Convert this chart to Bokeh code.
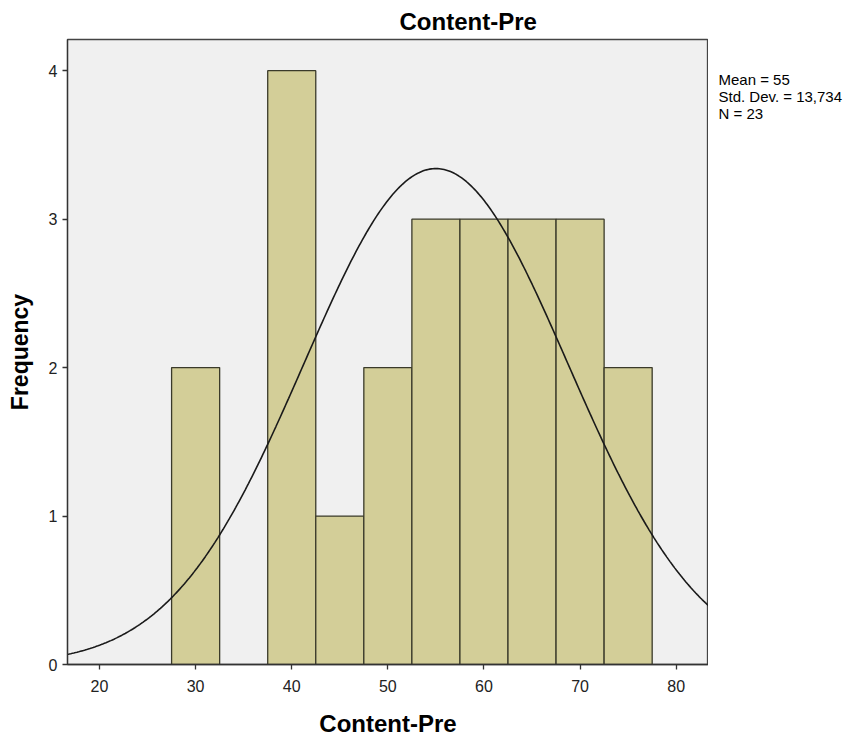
import math
from bokeh.plotting import figure
from bokeh.layouts import row
from bokeh.models import FixedTicker, Range1d
from bokeh.core.properties import value
from bokeh.embed import file_html
from bokeh.resources import INLINE

# Data
bin_centers = [30, 40, 45, 50, 55, 60, 65, 70, 75]
counts = [2, 4, 1, 2, 3, 3, 3, 3, 2]
bin_width = 5
stat_mean = 55
stat_sd = 13.734
stat_n = 23
x_ticks = [20, 30, 40, 50, 60, 70, 80]
y_ticks = [0, 1, 2, 3, 4]
stats_lines = ["Mean = 55", "Std. Dev. = 13,734", "N = 23"]

FONT = "Liberation Sans"
x_lo, x_hi = 16.67, 83.36
y_lo, y_hi = 0, 4.21
TOP = 36
BOTTOM = 60

p = figure(frame_width=641, frame_height=625, output_backend="svg", toolbar_location=None,
           x_range=Range1d(x_lo, x_hi), y_range=Range1d(y_lo, y_hi),
           min_border_left=67, min_border_right=0, min_border_top=TOP, min_border_bottom=BOTTOM,
           background_fill_color="#f0f0f0", border_fill_color="white")

p.title.text = "Content-Pre"
p.title.text_font = FONT
p.title.text_font_size = "24px"
p.title.text_font_style = "bold"
p.title.align = "left"
p.title.offset = 332
p.title.text_color = "black"

p.outline_line_color = "#444444"
p.outline_line_width = 1.3
p.grid.visible = False

lefts = [c - bin_width / 2 for c in bin_centers]
rights = [c + bin_width / 2 for c in bin_centers]
p.quad(left=lefts, right=rights, bottom=0, top=counts,
       fill_color="#d3ce98", line_color="#3a3a2a", line_width=1.3)

# fitted normal curve from the stated statistics
xs = [x_lo + (x_hi - x_lo) * i / 400 for i in range(401)]
ys = [stat_n * bin_width / (stat_sd * math.sqrt(2 * math.pi)) *
      math.exp(-0.5 * ((x - stat_mean) / stat_sd) ** 2) for x in xs]
p.line(xs, ys, line_color="#1a1a1a", line_width=1.6)

for ax in (p.xaxis[0], p.yaxis[0]):
    ax.axis_line_color = "#333333"
    ax.axis_line_width = 1.3
    ax.major_tick_line_color = "#333333"
    ax.major_tick_line_width = 1.3
    ax.major_tick_out = 5
    ax.major_tick_in = 0
    ax.minor_tick_line_color = None
    ax.major_label_text_font = FONT
    ax.major_label_text_font_size = "16px"
    ax.major_label_text_color = "#222222"
    ax.axis_label_text_font = FONT
    ax.axis_label_text_font_style = "bold"
    ax.axis_label_text_color = "black"

p.xaxis.axis_label_text_font_size = "24px"
p.yaxis.axis_label_text_font_size = "23px"
p.xaxis.ticker = FixedTicker(ticks=x_ticks)
p.yaxis.ticker = FixedTicker(ticks=y_ticks)
p.xaxis.axis_label = "Content-Pre"
p.yaxis.axis_label = "Frequency"
p.xaxis.major_label_standoff = 10
p.xaxis.axis_label_standoff = 15
p.yaxis.major_label_standoff = 5
p.yaxis.axis_label_standoff = 13
p.yaxis.major_label_orientation = "horizontal"

# side panel with the summary statistics, sharing the main y scale
s = figure(frame_width=137, frame_height=625, output_backend="svg", toolbar_location=None,
           x_range=Range1d(0, 137), y_range=p.y_range,
           min_border_left=0, min_border_right=0, min_border_top=TOP, min_border_bottom=BOTTOM,
           border_fill_color="white", background_fill_color="white")
s.title.text = ""
s.title.text_font = FONT
s.title.text_font_size = "24px"
s.title.text_font_style = "bold"
s.outline_line_color = None
s.axis.visible = False
s.grid.visible = False
s.text(x=[10] * len(stats_lines), y=[y_hi] * len(stats_lines),
       y_offset=[40 + 17 * i for i in range(len(stats_lines))],
       text=stats_lines, text_font=value(FONT), text_font_size="15px",
       text_color="black", text_baseline="middle", text_align="left")

layout = row(p, s)
open("out.html", "w").write(file_html(layout, INLINE))
